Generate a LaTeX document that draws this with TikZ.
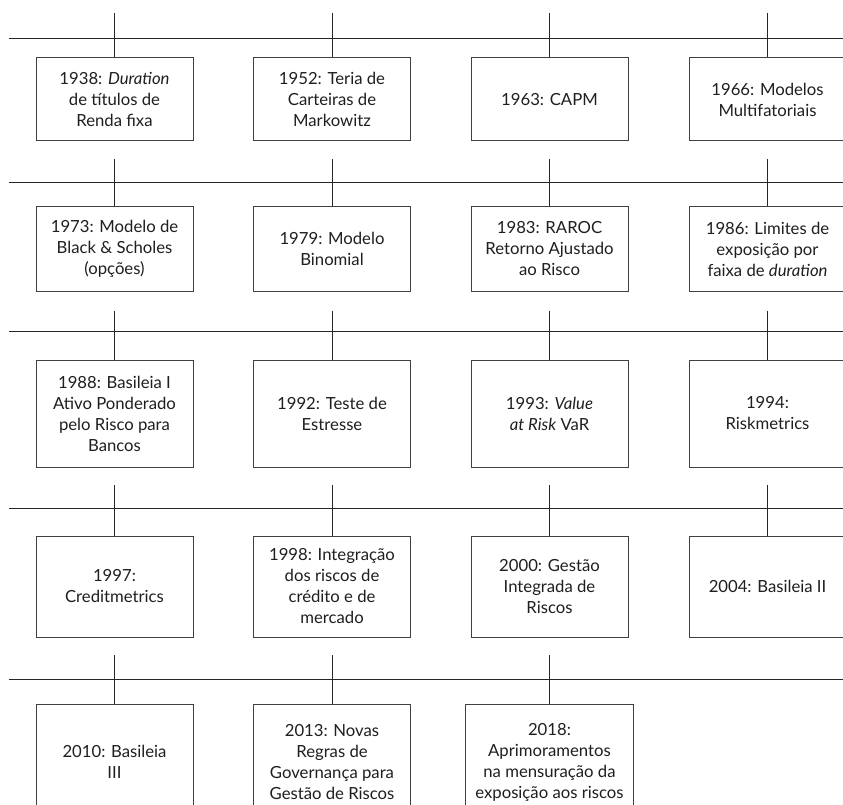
\documentclass[tikz,border=0pt]{standalone}
\usepackage{fontspec}
\setmainfont{Lato}
\usepackage{tikz}
\tikzstyle{event}=[rectangle,draw=black!75,line width=1pt,fill=white,inner sep=0pt,align=center,minimum width=157pt,font=\fontsize{16.7}{21}\selectfont,text=black!88]
\tikzstyle{line}=[draw=black!85,line width=0.9pt]

\begin{document}
\begin{tikzpicture}[x=1pt,y=-1pt]
        \useasboundingbox (0,0) rectangle (843,805);
        \clip (0,0) rectangle (843,805);

        \coordinate (r1a) at (9,38);
        \coordinate (r1b) at (850,38);
        \coordinate (r2a) at (9,182);
        \coordinate (r2b) at (850,182);
        \coordinate (r3a) at (9,331.5);
        \coordinate (r3b) at (850,331.5);
        \coordinate (r4a) at (9,508);
        \coordinate (r4b) at (850,508);
        \coordinate (r5a) at (9,679);
        \coordinate (r5b) at (850,679);

        \node at (114.5,99.5) [event,minimum height=83pt] (e1938) {1938: \textit{Duration}\\de títulos de\\Renda fixa};
        \node at (332,99.5)   [event,minimum height=83pt] (e1952) {1952: Teria de\\Carteiras de\\Markowitz};
        \node at (549.5,99.5) [event,minimum height=83pt] (e1963) {1963: CAPM};
        \node at (767.5,99.5) [event,minimum height=83pt] (e1966) {1966: Modelos\\Multifatoriais};

        \node at (114.5,249)  [event,minimum height=84pt] (e1973) {1973: Modelo de\\Black \& Scholes\\(opções)};
        \node at (332,249)    [event,minimum height=84pt] (e1979) {1979: Modelo\\Binomial};
        \node at (549.5,249)  [event,minimum height=84pt] (e1983) {1983: RAROC\\Retorno Ajustado\\ao Risco};
        \node at (767.5,249)  [event,minimum height=84pt] (e1986) {1986: Limites de\\exposição por\\faixa de \textit{duration}};

        \node at (114.5,413.5) [event,minimum height=107pt] (e1988) {1988: Basileia I\\Ativo Ponderado\\pelo Risco para\\Bancos};
        \node at (332,413.5)   [event,minimum height=107pt] (e1992) {1992: Teste de\\Estresse};
        \node at (549.5,413.5) [event,minimum height=107pt] (e1993) {1993: \textit{Value}\\\textit{at Risk} VaR};
        \node at (767.5,413.5) [event,minimum height=107pt] (e1994) {1994:\\Riskmetrics};

        \node at (114.5,586.5) [event,minimum height=101pt] (e1997) {1997:\\Creditmetrics};
        \node at (332,586.5)   [event,minimum height=101pt] (e1998) {1998: Integração\\dos riscos de\\crédito e de\\mercado};
        \node at (549.5,586.5) [event,minimum height=101pt] (e2000) {2000: Gestão\\Integrada de\\Riscos};
        \node at (767.5,586.5) [event,minimum height=101pt] (e2004) {2004: Basileia II};

        \node at (114.5,762) [event,minimum height=116pt] (e2010) {2010: Basileia\\III};
        \node at (332,762)   [event,minimum height=116pt] (e2013) {2013: Novas\\Regras de\\Governança para\\Gestão de Riscos};
        \node at (549.5,762) [event,minimum height=116pt,minimum width=168pt] (e2018) {2018:\\Aprimoramentos\\na mensuração da\\exposição aos riscos};

        \coordinate (t1938) at (114.5,13);
        \coordinate (t1952) at (332,13);
        \coordinate (t1963) at (549.5,13);
        \coordinate (t1966) at (767.5,13);
        \coordinate (t1973) at (114.5,159);
        \coordinate (t1979) at (332,159);
        \coordinate (t1983) at (549.5,159);
        \coordinate (t1986) at (767.5,159);
        \coordinate (t1988) at (114.5,310.5);
        \coordinate (t1992) at (332,310.5);
        \coordinate (t1993) at (549.5,310.5);
        \coordinate (t1994) at (767.5,310.5);
        \coordinate (t1997) at (114.5,485);
        \coordinate (t1998) at (332,485);
        \coordinate (t2000) at (549.5,485);
        \coordinate (t2004) at (767.5,485);
        \coordinate (t2010) at (114.5,655);
        \coordinate (t2013) at (332,655);
        \coordinate (t2018) at (549.5,655);

        \draw [line] (r1a) -- (r1b);
        \draw [line] (r2a) -- (r2b);
        \draw [line] (r3a) -- (r3b);
        \draw [line] (r4a) -- (r4b);
        \draw [line] (r5a) -- (r5b);

        \draw [line] (t1938) -- (e1938);
        \draw [line] (t1952) -- (e1952);
        \draw [line] (t1963) -- (e1963);
        \draw [line] (t1966) -- (e1966);
        \draw [line] (t1973) -- (e1973);
        \draw [line] (t1979) -- (e1979);
        \draw [line] (t1983) -- (e1983);
        \draw [line] (t1986) -- (e1986);
        \draw [line] (t1988) -- (e1988);
        \draw [line] (t1992) -- (e1992);
        \draw [line] (t1993) -- (e1993);
        \draw [line] (t1994) -- (e1994);
        \draw [line] (t1997) -- (e1997);
        \draw [line] (t1998) -- (e1998);
        \draw [line] (t2000) -- (e2000);
        \draw [line] (t2004) -- (e2004);
        \draw [line] (t2010) -- (e2010);
        \draw [line] (t2013) -- (e2013);
        \draw [line] (t2018) -- (e2018);
      \end{tikzpicture}
\end{document}
